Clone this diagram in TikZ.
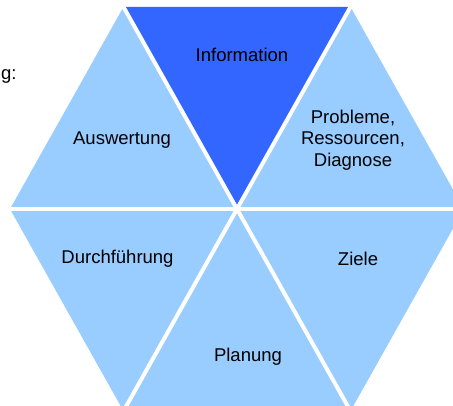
\documentclass[tikz,border=0pt]{standalone}
\usepackage{fontspec}
\setmainfont{Liberation Sans}
\definecolor{lightblue}{HTML}{99CCFF}
\definecolor{darkblue}{HTML}{3366FF}

\begin{document}
\begin{tikzpicture}[x=227pt,y=233.3pt]
\tikzstyle{every node}=[inner sep=0pt, align=center, font=\fontsize{18.5}{21.7}\selectfont]
\tikzstyle{gap}=[white, line width=4pt]
\useasboundingbox (-237pt,-197pt) rectangle (216pt,209pt);
\coordinate (o) at (0,0);
\coordinate (c1) at (0:1);
\coordinate (c2) at (60:1);
\coordinate (c3) at (120:1);
\coordinate (c4) at (180:1);
\coordinate (c5) at (240:1);
\coordinate (c6) at (300:1);
\fill[lightblue] (o) -- (c1) -- (c2) -- cycle;
\fill[darkblue] (o) -- (c2) -- (c3) -- cycle;
\fill[lightblue] (o) -- (c3) -- (c4) -- cycle;
\fill[lightblue] (o) -- (c4) -- (c5) -- cycle;
\fill[lightblue] (o) -- (c5) -- (c6) -- cycle;
\fill[lightblue] (o) -- (c6) -- (c1) -- cycle;
\draw[gap] (c1) -- (c4);
\draw[gap] (c2) -- (c5);
\draw[gap] (c3) -- (c6);
\draw (5pt,154pt) node (info) {Information};
\draw (116pt,69pt) node (diag) {Probleme,\\Ressourcen,\\Diagnose};
\draw (121pt,-50pt) node (ziele) {Ziele};
\draw (11pt,-148pt) node (plan) {Planung};
\draw (-119.5pt,-50pt) node (durch) {Durchführung};
\draw (-115pt,69pt) node (ausw) {Auswertung};
\draw (-236pt,129pt) node (head) [anchor=base west] {g:};
\end{tikzpicture}
\end{document}
